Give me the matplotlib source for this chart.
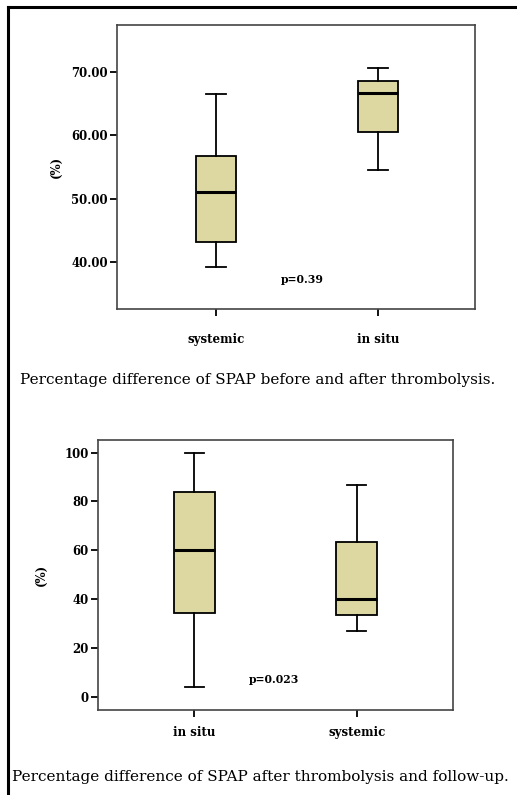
#! /usr/bin/env python3

import matplotlib
matplotlib.use('Agg')
import matplotlib.pyplot as plt
from matplotlib.lines import Line2D

# top panel: before vs after thrombolysis
top_groups = ['systemic', 'in situ']
top_low = [39.3, 54.5]
top_q1 = [43.2, 60.5]
top_med = [51.0, 66.7]
top_q3 = [56.7, 68.6]
top_high = [66.6, 70.6]
top_ticks = [40, 50, 60, 70]
top_p = 'p=0.39'
top_caption = 'Percentage difference of SPAP before and after thrombolysis.'

# bottom panel: after thrombolysis vs follow-up
bot_groups = ['in situ', 'systemic']
bot_low = [4.1, 26.8]
bot_q1 = [34.1, 33.3]
bot_med = [60.2, 40.0]
bot_q3 = [83.9, 63.4]
bot_high = [100.0, 86.7]
bot_ticks = [0, 20, 40, 60, 80, 100]
bot_p = 'p=0.023'
bot_caption = 'Percentage difference of SPAP after thrombolysis and follow-up.'

fill = '#ddd8a2'
plt.rcParams['font.family'] = ['DejaVu Serif']


def panel(ax, groups, low, q1, med, q3, high, ticks, fmt, ylim, xlim, ptxt, pxy, ylab_x, xpad):
    stats = []
    for i in range(len(groups)):
        stats.append({'whislo': low[i], 'q1': q1[i], 'med': med[i],
                      'q3': q3[i], 'whishi': high[i], 'fliers': []})
    ax.bxp(stats, positions=[1, 2], widths=0.25, patch_artist=True,
           showfliers=False,
           boxprops=dict(facecolor=fill, edgecolor='black', linewidth=1.3),
           medianprops=dict(color='black', linewidth=2.2),
           whiskerprops=dict(color='black', linewidth=1.3),
           capprops=dict(color='black', linewidth=1.3),
           capwidths=0.12)
    ax.set_xlim(*xlim)
    ax.set_ylim(*ylim)
    ax.set_yticks(ticks)
    ax.set_yticklabels([fmt % t for t in ticks], fontsize=8.5, fontweight='bold')
    ax.set_xticks([1, 2])
    ax.set_xticklabels(groups, fontsize=8.5, fontweight='bold')
    ax.tick_params(axis='both', direction='out', length=5, width=1.3, pad=1.5)
    ax.tick_params(axis='x', pad=xpad)
    for s in ax.spines.values():
        s.set_color('#444444')
        s.set_linewidth(1.2)
    ax.text(pxy[0], pxy[1], ptxt, fontsize=7.8, fontweight='bold',
            ha='center', va='center', transform=ax.transData)
    ax.set_ylabel('(%)', fontsize=8.5, fontweight='bold')
    ax.yaxis.set_label_coords(ylab_x, 0.5)


fig = plt.figure(figsize=(5.17, 7.95), dpi=100)

ax1 = fig.add_axes([0.2263, 0.6113, 0.6925, 0.3572])
panel(ax1, top_groups, top_low, top_q1, top_med, top_q3, top_high,
      top_ticks, '%.2f', (32.6, 77.4), (0.387, 2.6), top_p, (1.53, 37.3), -0.15, 12.5)

ax2 = fig.add_axes([0.1896, 0.1069, 0.6867, 0.3396])
panel(ax2, bot_groups, bot_low, bot_q1, bot_med, bot_q3, bot_high,
      bot_ticks, '%d', (-5.5, 105.2), (0.407, 2.593), bot_p, (1.49, 7.0), -0.14, 6.5)

fig.text(20 / 517, 1 - 380 / 795, top_caption, fontsize=11, ha='left', va='center')
fig.text(12 / 517, 1 - 777 / 795, bot_caption, fontsize=11, ha='left', va='center')

# page frame: left and top edges
fig.add_artist(Line2D([8 / 517, 8 / 517], [0, 1 - 7 / 795], color='black', linewidth=2.2,
                      transform=fig.transFigure))
fig.add_artist(Line2D([8 / 517, 1], [1 - 7 / 795, 1 - 7 / 795], color='black', linewidth=2.2,
                      transform=fig.transFigure))

fig.savefig('out.png', dpi=100)
